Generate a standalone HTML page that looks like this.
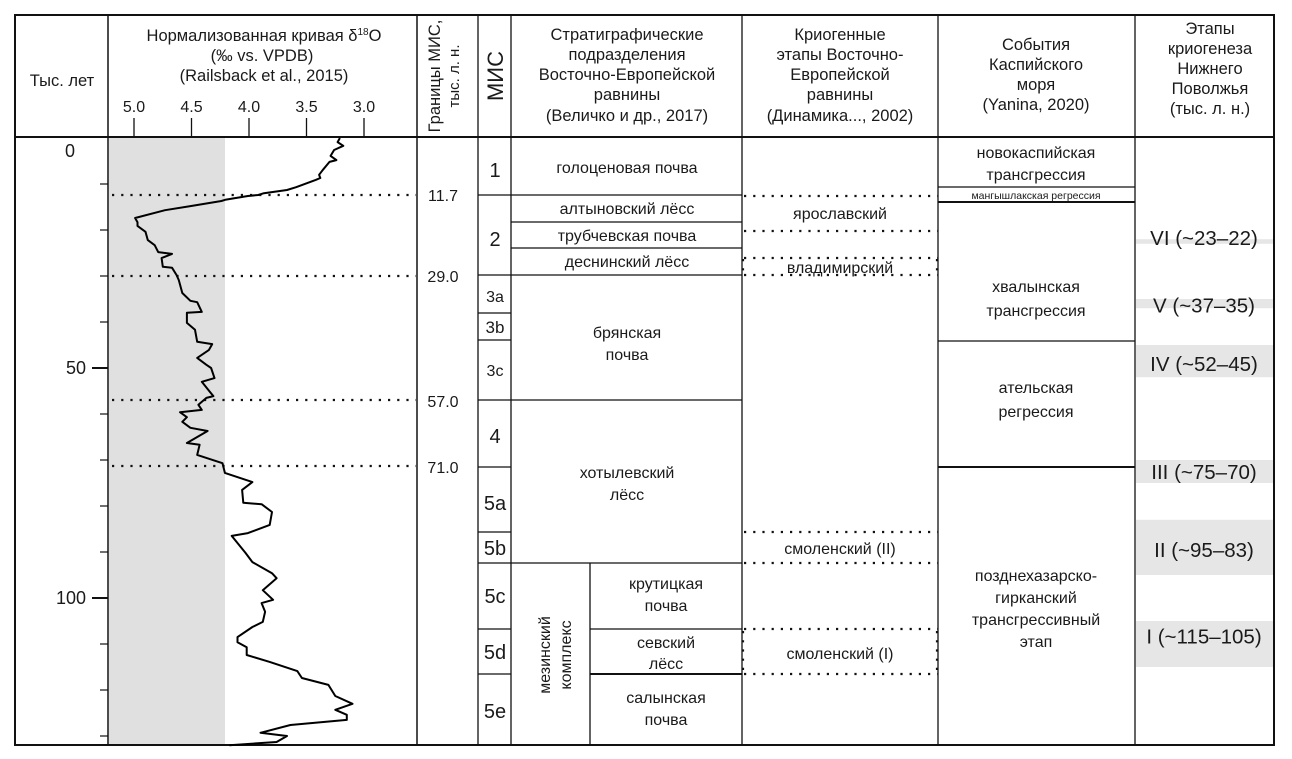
<!DOCTYPE html>
<html><head><meta charset="utf-8">
<style>
html,body{margin:0;padding:0;background:#fff;}
svg{display:block;font-family:"Liberation Sans",Arial,sans-serif;}
text{fill:#1a1a1a;}
</style></head>
<body>
<svg id="chart" width="1292" height="759" viewBox="0 0 1292 759" xmlns="http://www.w3.org/2000/svg">
<g id="bands"></g>
<rect x="109" y="138" width="116" height="607" fill="#e0e0e0"/>
<g id="grid" stroke="#111" fill="none" stroke-width="1.3">
  <rect x="15" y="15" width="1259" height="730" stroke-width="2"/>
  <line x1="15" y1="137" x2="1274" y2="137" stroke-width="2"/>
  <line x1="108" y1="15" x2="108" y2="745" stroke-width="1.5"/>
  <line x1="417" y1="15" x2="417" y2="745" stroke-width="1.5"/>
  <line x1="478" y1="15" x2="478" y2="745"/>
  <line x1="511" y1="15" x2="511" y2="745"/>
  <line x1="742" y1="15" x2="742" y2="745"/>
  <line x1="938" y1="15" x2="938" y2="745"/>
  <line x1="1135" y1="15" x2="1135" y2="745"/>
  <line x1="478" y1="195" x2="742" y2="195"/>
  <line x1="478" y1="275" x2="742" y2="275"/>
  <line x1="478" y1="313" x2="511" y2="313"/>
  <line x1="478" y1="340" x2="511" y2="340"/>
  <line x1="478" y1="400" x2="742" y2="400"/>
  <line x1="478" y1="467" x2="511" y2="467"/>
  <line x1="478" y1="532" x2="511" y2="532"/>
  <line x1="478" y1="563" x2="742" y2="563"/>
  <line x1="478" y1="629" x2="511" y2="629"/>
  <line x1="478" y1="674" x2="511" y2="674"/>
  <line x1="511" y1="222" x2="742" y2="222"/>
  <line x1="511" y1="248" x2="742" y2="248"/>
  <line x1="590" y1="563" x2="590" y2="745"/>
  <line x1="590" y1="629" x2="742" y2="629"/>
  <line x1="590" y1="674" x2="742" y2="674" stroke-width="2"/>
  <line x1="938" y1="187" x2="1135" y2="187"/>
  <line x1="938" y1="202" x2="1135" y2="202" stroke-width="2"/>
  <line x1="938" y1="341" x2="1135" y2="341"/>
  <line x1="938" y1="467" x2="1135" y2="467" stroke-width="2"/>
</g>
<g stroke="#111" stroke-width="2.2" stroke-dasharray="2.2 7" fill="none">
  <line x1="112" y1="195" x2="416" y2="195"/>
  <line x1="112" y1="276" x2="416" y2="276"/>
  <line x1="112" y1="400" x2="416" y2="400"/>
  <line x1="112" y1="466" x2="416" y2="466"/>
  <line x1="744" y1="196" x2="938" y2="196"/>
  <line x1="744" y1="231" x2="938" y2="231"/>
  <line x1="744" y1="258" x2="938" y2="258"/>
  <line x1="744" y1="275" x2="938" y2="275"/>
  <line x1="744" y1="532" x2="938" y2="532"/>
  <line x1="744" y1="563" x2="938" y2="563"/>
  <line x1="744" y1="629" x2="938" y2="629"/>
  <line x1="744" y1="674" x2="938" y2="674"/>
  <line x1="743" y1="631" x2="743" y2="674"/>
  <line x1="937" y1="631" x2="937" y2="674"/>
  <line x1="743" y1="259" x2="743" y2="275"/>
  <line x1="937" y1="259" x2="937" y2="275"/>
</g>
<g id="axes"></g>
<path id="curve" fill="none" stroke="#000" stroke-width="2" stroke-linejoin="round"/>

<g font-size="16.5" text-anchor="middle">
  <text x="62" y="86">Тыс. лет</text>
  <text x="264" y="41">Нормализованная кривая δ<tspan font-size="10" dy="-6">18</tspan><tspan dy="6">O</tspan></text>
  <text x="262" y="61">(‰ vs. VPDB)</text>
  <text x="264" y="81">(Railsback et al., 2015)</text>
  <text transform="translate(440,76) rotate(-90)">Границы МИС,</text>
  <text transform="translate(459,76) rotate(-90)" font-size="15">тыс. л. н.</text>
  <text transform="translate(503,76) rotate(-90)" font-size="22">МИС</text>
  <text x="627" y="40">Стратиграфические</text>
  <text x="627" y="60">подразделения</text>
  <text x="627" y="80">Восточно-Европейской</text>
  <text x="627" y="100">равнины</text>
  <text x="627" y="121">(Величко и др., 2017)</text>
  <text x="840" y="40">Криогенные</text>
  <text x="840" y="60">этапы Восточно-</text>
  <text x="840" y="80">Европейской</text>
  <text x="840" y="100">равнины</text>
  <text x="840" y="121">(Динамика..., 2002)</text>
  <text x="1036" y="50">События</text>
  <text x="1036" y="70">Каспийского</text>
  <text x="1036" y="90">моря</text>
  <text x="1036" y="110">(Yanina, 2020)</text>
  <text x="1210" y="34">Этапы</text>
  <text x="1210" y="54">криогенеза</text>
  <text x="1210" y="74">Нижнего</text>
  <text x="1210" y="94">Поволжья</text>
  <text x="1210" y="114">(тыс. л. н.)</text>
</g>
<g font-size="16" text-anchor="middle">
  <text x="443" y="201">11.7</text>
  <text x="443" y="282">29.0</text>
  <text x="443" y="407">57.0</text>
  <text x="443" y="473">71.0</text>
</g>
<g font-size="20" text-anchor="middle">
  <text x="495" y="177">1</text>
  <text x="495" y="246">2</text>
  <text x="495" y="302" font-size="16">3a</text>
  <text x="495" y="333" font-size="17">3b</text>
  <text x="495" y="376" font-size="16">3c</text>
  <text x="495" y="443">4</text>
  <text x="495" y="510">5a</text>
  <text x="495" y="555">5b</text>
  <text x="495" y="603">5c</text>
  <text x="495" y="659">5d</text>
  <text x="495" y="718">5e</text>
</g>
<g font-size="16" text-anchor="middle">
  <text x="627" y="173">голоценовая почва</text>
  <text x="627" y="214">алтыновский лёсс</text>
  <text x="627" y="241">трубчевская почва</text>
  <text x="627" y="267">деснинский лёсс</text>
  <text x="627" y="338">брянская</text>
  <text x="627" y="360">почва</text>
  <text x="627" y="478">хотылевский</text>
  <text x="627" y="500">лёсс</text>
  <text x="666" y="589">крутицкая</text>
  <text x="666" y="611">почва</text>
  <text x="666" y="648">севский</text>
  <text x="666" y="669">лёсс</text>
  <text x="666" y="703">салынская</text>
  <text x="666" y="725">почва</text>
  <text transform="translate(550,655) rotate(-90)">мезинский</text>
  <text transform="translate(571,655) rotate(-90)">комплекс</text>
</g>
<g font-size="16" text-anchor="middle">
  <text x="840" y="219">ярославский</text>
  <text x="840" y="273">владимирский</text>
  <text x="840" y="554">смоленский (II)</text>
  <text x="840" y="659">смоленский (I)</text>
</g>
<g font-size="16" text-anchor="middle">
  <text x="1036" y="158">новокаспийская</text>
  <text x="1036" y="180">трансгрессия</text>
  <text x="1036" y="199" font-size="10.5">мангышлакская регрессия</text>
  <text x="1036" y="292">хвалынская</text>
  <text x="1036" y="316">трансгрессия</text>
  <text x="1036" y="393">ательская</text>
  <text x="1036" y="417">регрессия</text>
  <text x="1036" y="581">позднехазарско-</text>
  <text x="1036" y="603">гирканский</text>
  <text x="1036" y="625">трансгрессивный</text>
  <text x="1036" y="647">этап</text>
</g>
<g id="bandlabels" font-size="20.5" text-anchor="middle"></g>
</svg>
<script>
var NS="http://www.w3.org/2000/svg";
var ages=[0,0.9,1.7,2.6,3.9,4.8,5.2,7.0,8.0,8.7,9.1,10.7,11.3,12.0,12.4,12.6,13.4,13.7,14.8,15.7,17.4,18.3,19.1,20.4,22.2,23.3,24.8,25.2,26.1,28.0,28.2,29.8,30.9,33.7,35.4,35.7,37.8,38.0,40.2,41.7,44.3,44.8,46.1,47.8,49.3,50.0,52.2,53.0,55.2,56.1,56.5,58.0,59.1,59.6,60.7,61.7,63.0,63.7,66.3,66.7,68.9,70.7,72.8,74.8,76.5,79.3,79.6,81.3,84.1,85.9,86.5,90.2,92.2,94.6,95.7,98.3,100.4,101.1,103.0,105.2,106.3,108.5,109.6,110.7,112.4,113.9,115.9,117.4,118.9,121.3,123.0,124.3,125.4,126.5,127.6,129.3,130.0,131.3,132.0];
var d18o=[3.21,3.23,3.18,3.26,3.29,3.24,3.30,3.36,3.39,3.38,3.42,3.59,3.67,3.87,3.92,4.01,4.20,4.24,4.51,4.73,4.99,4.97,4.97,4.90,4.88,4.82,4.79,4.67,4.76,4.75,4.67,4.63,4.61,4.58,4.51,4.45,4.41,4.54,4.54,4.47,4.45,4.32,4.35,4.45,4.37,4.33,4.30,4.41,4.34,4.31,4.37,4.44,4.41,4.60,4.54,4.58,4.51,4.36,4.54,4.43,4.45,4.23,4.21,3.97,4.06,4.05,3.89,3.80,3.82,4.01,4.15,4.03,3.97,3.80,3.76,3.88,3.79,3.89,3.86,3.88,3.97,4.10,4.10,4.02,4.02,3.82,3.58,3.54,3.31,3.25,3.10,3.25,3.15,3.15,3.64,3.90,3.67,3.76,4.17];
var xTicks=[5.0,4.5,4.0,3.5,3.0];
var xTickLabels=["5.0","4.5","4.0","3.5","3.0"];
var ageTicks=[10,20,30,40,50,60,70,80,90,100,110,120,130];
var ageLabels=[0,50,100];
var bandStart=[22,35,45,70,83,105];
var bandEnd=[23,37,52,75,95,115];
var bandNames=["VI (~23–22)","V (~37–35)","IV (~52–45)","III (~75–70)","II (~95–83)","I (~115–105)"];
var bandLabelAge=[21.7,36.4,49.1,72.6,89.6,108.4];

function yS(a){return 138+a*4.6;}
function xS(v){return 134+(5.0-v)*115;}

var d="";
for(var i=0;i<ages.length;i++){d+=(i?"L":"M")+xS(d18o[i]).toFixed(1)+" "+yS(ages[i]).toFixed(1);}
document.getElementById("curve").setAttribute("d",d);

var ax=document.getElementById("axes");
for(var i=0;i<xTicks.length;i++){
  var l=document.createElementNS(NS,"line");
  l.setAttribute("x1",xS(xTicks[i]));l.setAttribute("x2",xS(xTicks[i]));
  l.setAttribute("y1",118);l.setAttribute("y2",137);
  l.setAttribute("stroke","#111");l.setAttribute("stroke-width",1.3);
  
  
  ax.appendChild(l);
  var t=document.createElementNS(NS,"text");
  t.setAttribute("x",xS(xTicks[i]));t.setAttribute("y",112);
  t.setAttribute("font-size",16);t.setAttribute("text-anchor","middle");
  t.textContent=xTickLabels[i];
  
  
  ax.appendChild(t);
}
for(var i=0;i<ageTicks.length;i++){
  var major=ageTicks[i]%50===0;
  var l=document.createElementNS(NS,"line");
  l.setAttribute("x1",major?92:100);l.setAttribute("x2",108);
  l.setAttribute("y1",yS(ageTicks[i]));l.setAttribute("y2",yS(ageTicks[i]));
  l.setAttribute("stroke","#111");l.setAttribute("stroke-width",major?2:1.2);
  
  
  ax.appendChild(l);
}
for(var i=0;i<ageLabels.length;i++){
  var t=document.createElementNS(NS,"text");
  t.setAttribute("x",ageLabels[i]===0?75:86);
  t.setAttribute("y",yS(ageLabels[i])+(ageLabels[i]===0?19:6));
  t.setAttribute("font-size",18);t.setAttribute("text-anchor","end");
  t.textContent=ageLabels[i];
  
  
  ax.appendChild(t);
}
var bg=document.getElementById("bands"),bl=document.getElementById("bandlabels");
for(var i=0;i<bandStart.length;i++){
  var r=document.createElementNS(NS,"rect");
  var y1=yS(bandStart[i]),y2=yS(bandEnd[i]);
  r.setAttribute("x",1136);r.setAttribute("width",137);
  r.setAttribute("y",y1);r.setAttribute("height",Math.max(y2-y1,4));
  r.setAttribute("fill","#e6e6e6");
  
  
  bg.appendChild(r);
  var t=document.createElementNS(NS,"text");
  t.setAttribute("x",1204);t.setAttribute("y",yS(bandLabelAge[i])+7);
  t.setAttribute("fill","#333");
  t.textContent=bandNames[i];
  
  
  bl.appendChild(t);
}
</script>
</body></html>
